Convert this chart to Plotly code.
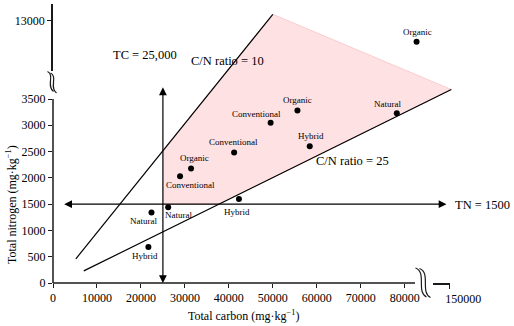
import plotly.graph_objects as go

# ---------------- data ----------------
management = ["Organic", "Natural", "Organic", "Conventional", "Hybrid", "Conventional",
              "Organic", "Conventional", "Hybrid", "Natural", "Natural", "Hybrid"]
total_carbon = [82700, 78200, 55600, 49500, 58400, 41200, 31400, 28900, 42300, 26200, 22400, 21700]
total_nitrogen = [12600, 3230, 3280, 3050, 2600, 2480, 2180, 2030, 1600, 1440, 1340, 685]

x_tick_values = [0, 10000, 20000, 30000, 40000, 50000, 60000, 70000, 80000]
x_upper_tick = [150000]
y_tick_values = [0, 500, 1000, 1500, 2000, 2500, 3000, 3500]
y_upper_tick = [13000]

cn10_carbon = [5200, 50000]
cn10_nitrogen = [460, 5110]
cn25_carbon = [7000, 90600]
cn25_nitrogen = [230, 3680]
zone_carbon = [25000, 37800, 90600, 50000, 25000]
zone_nitrogen = [1500, 1500, 3680, 5110, 2515]

tc_threshold = 25000
tn_threshold = 1500

# ---------------- layout geometry (pixels) ----------------
W, H = 514, 326
L, R, T, B = 53, 50, 4, 43
PW, PH = W - L - R, H - T - B
PX_PER_C = 351.7 / 80000
PX_PER_N = 184.0 / 3500
x_range = [0, PW / PX_PER_C]
y_range = [0, PH / PX_PER_N]

def pxx(px):
    return (px - L) / PW

def pxy(py):
    return (H - B - py) / PH

# label offsets (pixels) per point, separate from data
label_dx = [1, -9, 0, -14, 1, -1, 3, 10, -2, 10, -8, -3]
label_dy = [10, 9.5, 11, 8.5, 10, 11, 10, -8.6, -13.4, -7.3, -8.3, -9.4]

FONT = "Liberation Serif"
BLACK = "#000000"
AX = "#1a1a1a"

fig = go.Figure()

# shaded zone
fig.add_trace(go.Scatter(x=zone_carbon, y=zone_nitrogen, mode="lines", fill="toself",
                         fillcolor="rgb(254,226,227)", line=dict(color="rgb(251,205,207)", width=1),
                         hoverinfo="skip", xaxis="x", yaxis="y"))
# C/N lines
fig.add_trace(go.Scatter(x=cn10_carbon, y=cn10_nitrogen, mode="lines",
                         line=dict(color=BLACK, width=1.2), hoverinfo="skip"))
fig.add_trace(go.Scatter(x=cn25_carbon, y=cn25_nitrogen, mode="lines",
                         line=dict(color=BLACK, width=1.2), hoverinfo="skip"))

# points: lower segment and upper (broken) segment
low_idx = [i for i, v in enumerate(total_nitrogen) if v <= 3500]
up_idx = [i for i, v in enumerate(total_nitrogen) if v > 3500]
fig.add_trace(go.Scatter(x=[total_carbon[i] for i in low_idx], y=[total_nitrogen[i] for i in low_idx],
                         mode="markers", marker=dict(color=BLACK, size=6), cliponaxis=False))
fig.add_trace(go.Scatter(x=[total_carbon[i] for i in up_idx], y=[total_nitrogen[i] for i in up_idx],
                         mode="markers", marker=dict(color=BLACK, size=6), cliponaxis=False,
                         xaxis="x", yaxis="y2"))
# invisible anchor trace so the broken x-axis segment (x2) is rendered
fig.add_trace(go.Scatter(x=x_upper_tick, y=[0], mode="markers", marker=dict(size=1, opacity=0),
                         hoverinfo="skip", xaxis="x2", yaxis="y"))

annotations = []
for i, name in enumerate(management):
    annotations.append(dict(x=total_carbon[i], y=total_nitrogen[i], xref="x",
                            yref="y2" if total_nitrogen[i] > 3500 else "y",
                            text=name, showarrow=False, xshift=label_dx[i], yshift=label_dy[i],
                            font=dict(family=FONT, size=9, color=BLACK)))

# threshold arrows
annotations.append(dict(x=89500, y=tn_threshold, ax=2200, ay=tn_threshold, xref="x", yref="y",
                        axref="x", ayref="y", text="", showarrow=True, arrowside="end+start",
                        arrowhead=2, startarrowhead=2, arrowsize=1.3, startarrowsize=1.3,
                        arrowwidth=1.2, arrowcolor=BLACK, standoff=0, startstandoff=0))
annotations.append(dict(x=tc_threshold, y=0, ax=tc_threshold, ay=3750, xref="x", yref="y",
                        axref="x", ayref="y", text="", showarrow=True, arrowside="end+start",
                        arrowhead=2, startarrowhead=2, arrowsize=1.3, startarrowsize=1.3,
                        arrowwidth=1.2, arrowcolor=BLACK, standoff=0, startstandoff=0))

lab_font = dict(family=FONT, size=12.5, color=BLACK)
annotations += [
    dict(x=pxx(144.5), y=pxy(55), xref="paper", yref="paper", text="TC = 25,000",
         showarrow=False, font=lab_font, xanchor="center", yanchor="middle"),
    dict(x=pxx(227), y=pxy(60.7), xref="paper", yref="paper", text="C/N ratio = 10",
         showarrow=False, font=lab_font, xanchor="center", yanchor="middle"),
    dict(x=pxx(352.3), y=pxy(161), xref="paper", yref="paper", text="C/N ratio = 25",
         showarrow=False, font=lab_font, xanchor="center", yanchor="middle"),
    dict(x=pxx(453), y=pxy(205), xref="paper", yref="paper", text="TN = 1500",
         showarrow=False, font=lab_font, xanchor="left", yanchor="middle"),
    dict(x=pxx(243.4), y=pxy(315.5), xref="paper", yref="paper",
         text="Total carbon (mg·kg<sup>−1</sup>)", showarrow=False,
         font=dict(family=FONT, size=12, color=BLACK), xanchor="center", yanchor="middle"),
    dict(x=pxx(11), y=pxy(205), xref="paper", yref="paper",
         text="Total nitrogen (mg·kg<sup>−1</sup>)", showarrow=False, textangle=-90,
         font=dict(family=FONT, size=12, color=BLACK), xanchor="center", yanchor="middle"),
]

def squiggle(p0, c1, c2, p3):
    pts = [p0, c1, c2, p3]
    s = ["%.5f %.5f" % (pxx(x), pxy(y)) for x, y in pts]
    return "M %s C %s, %s, %s" % (s[0], s[1], s[2], s[3])

shapes = [
    # lower y-axis line (0..3500)
    dict(type="line", xref="paper", yref="y", x0=0, x1=0, y0=0, y1=3500,
         line=dict(color=AX, width=1.5)),
    # lower x-axis line (0..break)
    dict(type="line", xref="x", yref="paper", x0=0, x1=(415 - L) / PX_PER_C, y0=0, y1=0,
         line=dict(color=AX, width=1.5)),
]
for d in (0, 1):
    shapes.append(dict(type="path", xref="paper", yref="paper",
                       path=squiggle((47.5 + 3 * d, 71.5 + 1.5 * d), (55 + 3 * d, 75 + 1.5 * d),
                                     (46 + 3 * d, 86 + 1.5 * d), (53.5 + 3 * d, 91.5 + 1.5 * d)),
                       line=dict(color=AX, width=1.2)))
    shapes.append(dict(type="path", xref="paper", yref="paper",
                       path=squiggle((415.5 + 4 * d, 268 + 0.5 * d), (427 + 4 * d, 272 + 0.5 * d),
                                     (416 + 4 * d, 292 + 0.5 * d), (426.5 + 4 * d, 297 + 0.5 * d)),
                       line=dict(color=AX, width=1.2)))

tickfont = dict(family=FONT, size=12, color=BLACK)
common = dict(showgrid=False, zeroline=False, ticks="outside", ticklen=4, tickwidth=1,
              tickcolor=AX, tickfont=tickfont, tickformat="d")

x2_lo = pxx(433.3)
x2_hi = pxx(449.8)
y2_lo = pxy(71)
c2_span = (449.8 - 433.3) / PX_PER_C
n2_top = 13000 + (20.7 - T) / PX_PER_N
n2_bot = 13000 - (71 - 20.7) / PX_PER_N

fig.update_layout(
    width=W, height=H, margin=dict(l=L, r=R, t=T, b=B, autoexpand=False),
    paper_bgcolor="white", plot_bgcolor="rgba(0,0,0,0)", showlegend=False,
    font=dict(family=FONT, size=12, color=BLACK),
    xaxis=dict(domain=[0, 1], range=x_range, tickvals=x_tick_values, showline=False,
               anchor="y", **common),
    yaxis=dict(domain=[0, 1], range=y_range, tickvals=y_tick_values, showline=False,
               anchor="x", **common),
    xaxis2=dict(domain=[x2_lo, x2_hi], range=[150100 - c2_span, 150100], tickvals=x_upper_tick,
                showline=True, linecolor=AX, linewidth=1.5, anchor="y", ticklabelshift=14, **common),
    yaxis2=dict(domain=[y2_lo, 1], range=[n2_bot, n2_top], tickvals=y_upper_tick,
                showline=True, linecolor=AX, linewidth=1.5, anchor="x", **common),
    annotations=annotations, shapes=shapes,
)

fig.write_html("out.html", config={"displayModeBar": False},
               post_script="document.body.style.margin='0';document.body.style.padding='0';")
